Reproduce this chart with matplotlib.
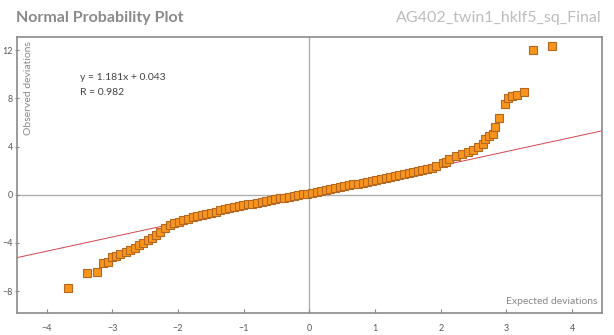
#!/usr/bin/env python3
import matplotlib
matplotlib.use("Agg")
import matplotlib.pyplot as plt
import numpy as np

# expected (normal quantile) vs observed deviations
expected = [
    -3.68, -3.38, -3.24, -3.15, -3.07, -3.01, -2.95, -2.88, -2.80, -2.73,
    -2.65, -2.59, -2.53, -2.46, -2.39, -2.33,
    -2.27, -2.20, -2.13, -2.06, -1.99, -1.92, -1.85, -1.78, -1.71, -1.64,
    -1.57, -1.50, -1.43, -1.36, -1.29, -1.22, -1.15, -1.08, -1.01, -0.94,
    -0.87, -0.80, -0.73, -0.66, -0.59, -0.52, -0.45, -0.38, -0.31, -0.24,
    -0.17, -0.10, -0.03, 0.04, 0.11, 0.18, 0.25, 0.32, 0.39, 0.46,
    0.53, 0.60, 0.67, 0.74, 0.81, 0.88, 0.95, 1.02, 1.09, 1.16,
    1.23, 1.30, 1.37, 1.44, 1.51, 1.58, 1.65, 1.72, 1.79,
    1.86, 1.93, 2.03, 2.08, 2.13, 2.23, 2.33, 2.41, 2.49, 2.56,
    2.64, 2.68, 2.73, 2.79, 2.83, 2.89, 2.98, 3.02, 3.08, 3.16,
    3.26, 3.41, 3.69,
]
observed = [
    -7.70, -6.50, -6.40, -5.70, -5.60, -5.20, -5.10, -4.90, -4.75, -4.60,
    -4.40, -4.20, -4.00, -3.75, -3.55, -3.30,
    -3.05, -2.78, -2.55, -2.38, -2.22, -2.09, -1.98, -1.88, -1.78, -1.68,
    -1.58, -1.48, -1.39, -1.30, -1.21, -1.12, -1.04, -0.96, -0.88, -0.80,
    -0.73, -0.66, -0.58, -0.51, -0.44, -0.37, -0.31, -0.24, -0.17, -0.10,
    -0.04, 0.03, 0.10, 0.17, 0.25, 0.32, 0.40, 0.47, 0.55, 0.63,
    0.70, 0.78, 0.86, 0.93, 1.00, 1.08, 1.15, 1.22, 1.30, 1.37,
    1.45, 1.53, 1.61, 1.70, 1.79, 1.88, 1.97, 2.06, 2.14,
    2.25, 2.36, 2.60, 2.75, 2.97, 3.20, 3.40, 3.55, 3.70, 3.95,
    4.17, 4.60, 4.86, 5.08, 5.64, 6.40, 7.50, 8.06, 8.20, 8.28,
    8.53, 11.97, 12.36,
]
slope = 1.181
intercept = 0.043
r_value = 0.982
x_ticks = [-4, -3, -2, -1, 0, 1, 2, 3, 4]
y_ticks = [-8, -4, 0, 4, 8, 12]

plt.rcParams['font.family'] = ['Lato', 'DejaVu Sans']

fig = plt.figure(figsize=(6.14, 3.35), dpi=100)
ax = fig.add_axes([0.028, 0.066, 0.952, 0.824])

xlim = (-4.45, 4.45)
ax.set_xlim(*xlim)
ax.set_ylim(-9.8, 13.1)

ax.axhline(0, color='#b0b0b0', lw=1.0, zorder=1)
ax.axvline(0, color='#b0b0b0', lw=1.0, zorder=1)

xl = np.array(xlim)
ax.plot(xl, slope * xl + intercept, color='#d3454c', lw=0.7, zorder=2)

ax.plot(expected, observed, linestyle='none', marker='s', markersize=6,
        markerfacecolor='#f7941d', markeredgecolor='#b5661f',
        markeredgewidth=0.8, zorder=3)

ax.set_xticks(x_ticks)
ax.set_yticks(y_ticks)
ax.tick_params(axis='both', colors='#888888', labelcolor='#5a5a5a',
               labelsize=6.5, length=3, width=0.8)
ax.tick_params(axis='x', direction='in', pad=8)
ax.tick_params(axis='y', direction='inout', pad=1.5)
for s in ax.spines.values():
    s.set_color('#8a8a8a')
    s.set_linewidth(1.2)

ax.text(-3.5, 9.75, f"y = {slope}x + {intercept}", fontsize=7.5,
        color='#444444', va='center')
ax.text(-3.5, 8.5, f"R = {r_value}", fontsize=7.5,
        color='#444444', va='center')

ax.text(0.012, 0.985, "Observed deviations", transform=ax.transAxes,
        rotation=90, ha='left', va='top', fontsize=7.5, color='#888888')
ax.text(0.992, 0.025, "Expected deviations", transform=ax.transAxes,
        ha='right', va='bottom', fontsize=7.5, color='#888888')

fig.text(0.026, 0.945, "Normal Probability Plot", fontsize=11.5,
         fontweight='bold', color='#8a8a8a', ha='left', va='center')
fig.text(0.980, 0.945, "AG402_twin1_hklf5_sq_Final", fontsize=11.5,
         color='#bdbdbd', ha='right', va='center')

fig.savefig("out.png", dpi=100)
